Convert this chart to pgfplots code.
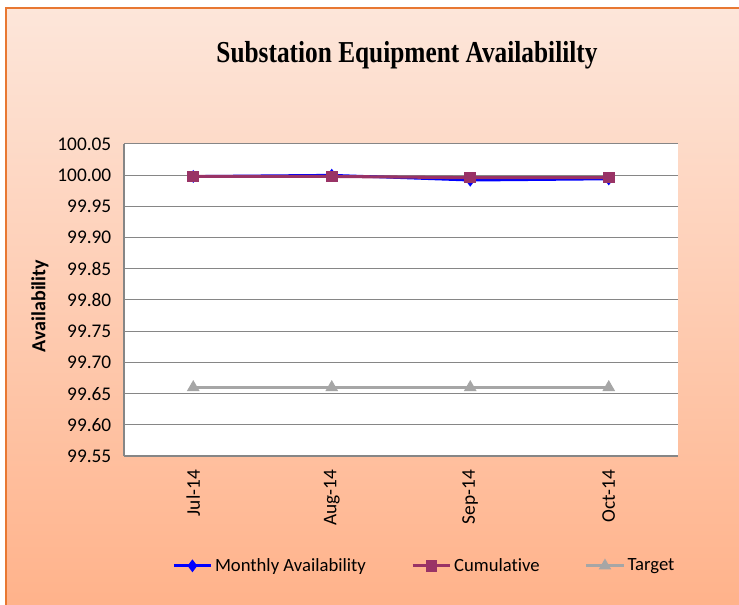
\documentclass[border=0pt]{standalone}
\usepackage{fontspec}
\setmainfont{Carlito}[Ligatures=NoCommon]
\newfontfamily\titlefont{Liberation Serif}
\usepackage{pgfplots}
\pgfplotsset{compat=1.18}
\definecolor{cumcol}{RGB}{153,51,102}
\definecolor{tgtcol}{RGB}{166,166,166}
\definecolor{gridcol}{RGB}{134,134,134}
\definecolor{bgtop}{RGB}{253,230,218}
\definecolor{bgbot}{RGB}{255,178,138}
\definecolor{brd}{RGB}{232,120,50}
\begin{document}
\begin{tikzpicture}[x=0.75pt,y=0.75pt]
\useasboundingbox (0,0) rectangle (739,605);
\clip (0,0) rectangle (739,605);
\fill[top color=bgtop, bottom color=bgbot] (6,-5) rectangle (745,597);
\draw[brd, line width=1.2pt] (6,-5) -- (6,597) -- (745,597);
\begin{axis}[
  at={(93pt,111.75pt)}, anchor=south west,
  scale only axis, width=415.5pt, height=234pt,
  xmin=-0.5, xmax=3.5,
  ymin=99.55, ymax=100.05,
  ytick={99.55,99.60,...,100.06},
  xtick={0,1,2,3},
  xticklabels={Jul-14,Aug-14,Sep-14,Oct-14},
  axis background/.style={fill=white},
  axis x line*=bottom, axis y line*=left,
  axis line style={gridcol, line width=0.8pt, -},
  ymajorgrids, grid style={gridcol, line width=0.75pt},
  major tick length=0pt,
  /pgf/number format/assume math mode=true,
  yticklabel={\pgfmathprintnumber[fixed,precision=2,fixed zerofill]{\tick}},
  yticklabel style={font=\fontsize{14.5}{16}\selectfont, xshift=-6pt},
  xticklabel style={font=\fontsize{14.5}{16}\selectfont, rotate=90, anchor=east, xshift=-7pt},
  legend columns=3,
  legend style={draw=none, fill=none, at={(0.543,-0.352)}, anchor=center,
    font=\fontsize{14}{16}\selectfont,
    /tikz/every even column/.append style={column sep=32pt}},
  legend cell align=left,
  legend image code/.code={\draw[mark repeat=2,mark phase=2,#1] plot coordinates {(0cm,0cm) (0.49cm,0cm) (0.98cm,0cm)};},
  clip=false,
]
\addplot[blue, line width=2pt, mark=diamond*, mark size=3.2pt, mark options={solid, fill=blue}]
  coordinates {(0,99.998) (1,100.000) (2,99.992) (3,99.994)};
\addlegendentry{Monthly Availability}
\addplot[cumcol, line width=2.3pt, mark=square*, mark size=3.2pt, mark options={solid, fill=cumcol}]
  coordinates {(0,99.998) (1,99.998) (2,99.996) (3,99.996)};
\addlegendentry{Cumulative}
\addplot[tgtcol, line width=2pt, mark=triangle*, mark size=3.5pt, mark options={solid, fill=tgtcol}]
  coordinates {(0,99.66) (1,99.66) (2,99.66) (3,99.66)};
\addlegendentry{Target}
\end{axis}
\node[font=\titlefont\bfseries\fontsize{19}{22}\selectfont, anchor=base, inner sep=0pt] at (407,542) {\scalebox{1}[1.2]{Substation Equipment Availabililty}};
\node[rotate=90, font=\bfseries\fontsize{15}{17}\selectfont] at (40,299) {Availability};
\end{tikzpicture}
\end{document}
